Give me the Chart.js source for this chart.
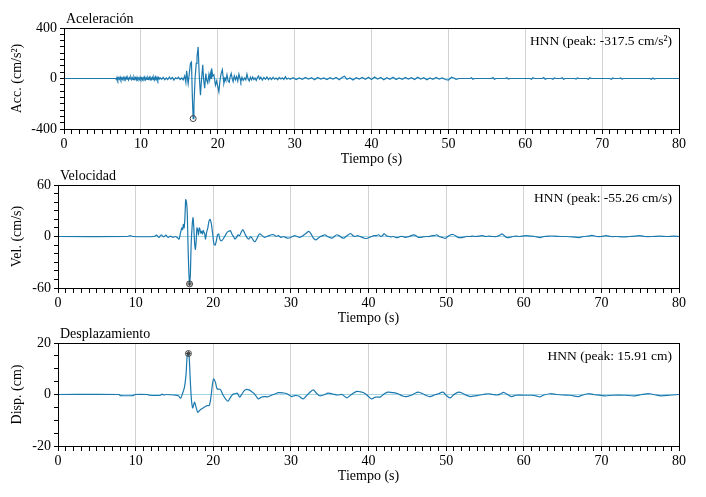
<!DOCTYPE html>
<html lang="es">
<head>
<meta charset="utf-8">
<title>Registro HNN</title>
<script src="https://cdn.jsdelivr.net/npm/chart.js@4.4.1/dist/chart.umd.min.js"></script>
<style>
    html, body { margin: 0; padding: 0; background: #fff; }
    #wrap { position: relative; width: 706px; height: 497px; overflow: hidden; }
    #wrap canvas { position: absolute; left: 0; }
</style>
</head>
<body>
<div id="wrap">
    <canvas id="accChart" width="706" height="168" style="top:0px"></canvas>
    <canvas id="velChart" width="706" height="167" style="top:160px"></canvas>
    <canvas id="dispChart" width="706" height="167" style="top:318px"></canvas>
</div>
<script>
// eje de tiempo compartido
const timeMin = 0;
const timeMax = 80;
const timeLabels = [0, 10, 20, 30, 40, 50, 60, 70, 80];

// aceleración [t (s), cm/s²]
const acceleration = [
    [0, 0], [6.75, 0],
    [6.8, -8], [6.9, 10], [7.0, -12], [7.1, 6], [7.2, -6], [7.3, 12], [7.4, -10], [7.5, 4], [7.6, -8], [7.7, 10],
    [7.8, -4], [7.9, 8], [8.0, -10], [8.1, 12], [8.2, -6], [8.3, 5], [8.4, -12], [8.5, 8], [8.6, -4], [8.7, 10],
    [8.8, -8], [8.9, 6], [9.0, -10], [9.1, 12], [9.2, -5], [9.3, 7], [9.4, -12], [9.5, 10], [9.6, -6], [9.7, 4],
    [9.8, -9], [9.9, 11], [10.0, -7], [10.1, 5], [10.2, -10], [10.3, 8], [10.4, -4], [10.5, 12], [10.6, -10], [10.7, 6],
    [10.8, -8], [10.9, 9], [11.0, -5], [11.1, 10], [11.2, -12], [11.3, 6], [11.4, -6], [11.5, 10], [11.6, -9], [11.7, 8],
    [11.8, -12], [11.9, 12], [12.0, -8], [12.1, 10], [12.2, -12], [12.3, 8], [12.4, -4], [12.5, 6],
    [12.7, -6], [12.9, 10], [13.1, -10], [13.3, 4], [13.5, -8], [13.7, 12], [13.9, -4], [14.1, 8], [14.3, -12],
    [14.5, 6], [14.7, -2], [14.9, 10], [15.1, -8], [15.3, 4], [15.5, -10],
    [15.7, 20], [15.85, -30], [15.95, 60], [16.05, 10], [16.15, -40], [16.3, 40], [16.45, 120], [16.58, 130],
    [16.7, -150], [16.8, -317.5], [16.9, -220], [17.05, 0], [17.2, 120], [17.3, 170], [17.45, 250], [17.58, 40],
    [17.75, -132], [17.85, -40], [18.05, 108], [18.15, 0], [18.3, -76], [18.45, 40], [18.55, -10], [18.7, -36],
    [18.85, 30], [18.95, -10], [19.05, 40], [19.15, 0], [19.2, 80], [19.35, 20], [19.5, 30], [19.7, -52],
    [19.85, -20], [20.15, -105], [20.25, -40], [20.35, 10], [20.45, 40], [20.6, 70], [20.7, 10], [20.8, -38],
    [20.95, 0], [21.05, -15], [21.2, 30], [21.35, -20], [21.5, -30], [21.6, 10], [21.75, 40], [21.9, -5],
    [22.0, -25], [22.15, 20], [22.3, -10], [22.45, 15], [22.6, -20], [22.75, 35], [22.9, 0], [23.0, -25],
    [23.15, 10], [23.3, -15], [23.5, 5], [23.65, -10], [23.8, 35], [23.95, -5], [24.1, -20], [24.25, 10],
    [24.4, -10], [24.55, 12], [24.7, -8], [24.85, 5], [25.0, -15], [25.15, 8], [25.3, 20], [25.45, -5],
    [25.6, 10], [25.8, -12], [26.0, 8], [26.2, -6], [26.4, 12], [26.6, -10], [26.8, 6], [27.0, -8],
    [27.2, 10], [27.4, -6], [27.6, 4], [27.8, -10], [28.0, 8], [28.2, -4], [28.4, 6], [28.6, -8], [28.8, 15],
    [29.0, -5], [29.2, 3], [29.4, -6], [29.8, 6], [30.2, -8], [30.6, 4], [31.0, -6], [31.4, 8], [31.8, -4],
    [32.2, 6], [32.6, -10], [33.0, 8], [33.4, -4], [33.8, 5], [34.2, -8], [34.6, 6], [35.0, -4], [35.4, 8],
    [35.8, -10], [36.2, 10], [36.5, 18], [36.8, -6], [37.2, 4], [37.6, -12], [38.0, 6], [38.4, -4], [38.8, 8],
    [39.2, -6], [39.6, 10], [40.0, -8], [40.4, 12], [40.8, -4], [41.2, 8], [41.6, -10], [42.0, 6], [42.4, -6],
    [42.8, 10], [43.2, -8], [43.6, 4], [44.0, -6], [44.4, 8], [44.8, -4], [45.2, 6], [45.6, -8], [46.0, 10],
    [46.4, -4], [46.8, 6], [47.2, -10], [47.6, 4], [48.0, -6], [48.4, 8], [48.8, -4], [49.2, 4], [49.6, -8],
    [50.0, -12], [50.4, 10], [50.7, 4], [51.0, -6], [51.4, 0], [52.8, 0], [53.0, 6], [53.2, -6], [53.4, 0],
    [55.6, 0], [55.8, 8], [56.0, -6], [56.2, 0], [57.4, 0], [57.6, 6], [57.8, -4], [58.0, 0], [60.6, 0],
    [60.8, -6], [61.0, 6], [61.2, 0], [62.2, 0], [62.4, 8], [62.6, -6], [62.8, 0], [63.4, 0], [63.6, -6],
    [63.8, 4], [64.0, 0], [64.6, 0], [64.8, 6], [65.0, -6], [65.2, 0], [66.4, 0], [66.6, -4], [66.8, 4],
    [67.0, 0], [68.0, 0], [68.2, -6], [68.4, 6], [68.6, 0], [71.0, 0], [71.2, -6], [71.4, 4], [71.6, 0],
    [72.2, 0], [72.4, 4], [72.6, -4], [72.8, 0], [76.2, 0], [76.4, -6], [76.6, 4], [76.8, -4], [77.0, 0],
    [80, 0]
];
const accPeak = [16.8, -317.5];
const accTicks = [-400, 0, 400];

// velocidad [t (s), cm/s]
const velocity = [
    [0, 0], [9.0, 0], [9.3, 1], [9.6, 0], [12.4, 0], [12.7, 1.5], [13.0, -1], [13.3, 2], [13.6, -0.5], [13.9, 1.5],
    [14.2, -1], [14.5, 0.5], [14.8, -1], [15.1, 0], [15.4, -1.5], [15.6, -3], [15.8, 5], [15.95, 10], [16.05, 8],
    [16.15, 14], [16.25, 10], [16.35, 22], [16.45, 43], [16.55, 40], [16.65, 28], [16.75, -10], [16.85, -40],
    [16.95, -55.26], [17.05, -45], [17.15, -10], [17.3, 15], [17.4, 22], [17.5, 10], [17.6, -8], [17.7, -15],
    [17.8, -5], [17.9, 10], [18.0, 8], [18.1, 2], [18.2, 10], [18.3, 8], [18.4, 4], [18.5, 6], [18.6, 3],
    [18.7, 7], [18.8, 5], [18.9, 3], [19.0, -3], [19.15, 5], [19.3, 10], [19.45, 18], [19.6, 20], [19.75, 15],
    [19.9, 5], [20.0, -3], [20.1, -9], [20.25, -10], [20.4, -5], [20.55, 2], [20.7, 3], [20.85, -3], [21.0, -5],
    [21.2, -4], [21.4, -1], [21.6, 2], [21.8, 5], [22.0, 6], [22.2, 7], [22.4, 3], [22.6, 0], [22.8, -3],
    [23.0, -1], [23.2, 2], [23.4, 1], [23.6, 5], [23.8, 8], [24.0, 5], [24.2, 1], [24.4, -2], [24.6, -3],
    [24.8, 0], [25.0, -2], [25.2, -5], [25.4, -6], [25.6, -3], [25.8, 1], [26.0, 3], [26.3, 1], [26.6, -1],
    [26.9, 0], [27.2, 1], [27.5, 2], [27.8, 2], [28.1, 0], [28.4, 1], [28.7, -1], [29.0, 0], [29.3, -1],
    [29.6, -2], [29.9, -1.5], [30.2, 0], [30.5, 1], [30.8, 0], [31.1, -1], [31.4, 0], [31.7, 2], [32.0, 4],
    [32.3, 6], [32.6, 3], [32.9, -2], [33.2, -4], [33.5, -2], [33.8, 0], [34.1, 1], [34.4, 2], [34.7, 0],
    [35.0, -1], [35.3, -2], [35.6, 0], [35.9, 2], [36.2, 1], [36.5, -1], [36.8, -2], [37.1, 0], [37.4, 2],
    [37.7, 3.5], [38.0, 1], [38.3, 0], [38.6, 1], [38.9, 0], [39.2, -1], [39.5, -2], [39.8, -2.3], [40.1, -1],
    [40.4, 0], [40.7, 1], [41.0, 1], [41.3, 2], [41.6, 0], [41.9, 2], [42.0, 3.5], [42.3, 1], [42.6, 0],
    [42.9, -0.5], [43.2, 0], [43.5, -1], [43.8, -1.2], [44.1, 0], [44.4, 0], [44.8, -1], [45.2, 0], [45.5, 1],
    [45.8, 2], [46.1, 1], [46.4, -1], [46.7, -1], [47.0, -0.5], [47.4, 0], [47.8, 0], [48.2, 1], [48.5, 1],
    [48.8, 2], [49.1, 0], [49.5, -1], [49.9, -2.3], [50.2, 0], [50.6, 2], [50.9, 2.3], [51.2, 1], [51.5, -1],
    [51.8, -1.2], [52.2, -1], [52.6, 0], [53.0, 0], [53.4, 0.5], [53.8, 0], [54.3, 0.5], [54.7, 1], [55.1, 0],
    [55.5, 0.5], [56.0, 0], [56.5, 0], [56.9, 1.5], [57.2, 3], [57.5, 1], [57.8, -1.2], [58.2, -1], [58.6, 0],
    [59.0, 0.5], [59.5, 0], [60.2, 1], [60.8, 0.5], [61.4, 0], [62.1, -1.2], [62.6, 0], [63.2, 0.5], [64.0, 0.5],
    [64.8, 0], [65.5, 0], [66.3, -0.5], [67.1, -1.2], [67.7, 0], [68.3, 0.5], [68.8, 1.2], [69.4, 0], [70.0, 0],
    [70.6, 1], [71.2, 0], [72.0, 0], [72.8, -0.5], [73.6, 0], [74.4, 0.5], [75.0, 1], [75.6, 0], [76.5, 0],
    [77.5, 0.5], [78.5, 0], [79.3, 0.5], [80, 0]
];
const velPeak = [16.95, -55.26];
const velTicks = [-60, 0, 60];

// desplazamiento [t (s), cm]
const displacement = [
    [0, 0], [7.9, 0], [8.0, -0.4], [9.7, -0.4], [9.9, 0], [11.5, 0], [11.8, -0.3], [13.2, -0.3], [13.4, 0.2],
    [13.6, -0.2], [14.0, 0], [15.0, -0.2], [15.5, -0.5], [15.8, -1.4], [16.0, 0], [16.3, 3], [16.5, 8],
    [16.65, 15.2], [16.8, 15.91], [16.9, 14.5], [17.05, 5], [17.2, -2.3], [17.35, -5.2], [17.5, -3.7],
    [17.6, -3], [17.75, -4.5], [18.0, -6.9], [18.3, -6], [18.7, -5.2], [19.2, -4.3], [19.5, -4.2], [19.7, -1],
    [19.9, 4], [20.05, 6.1], [20.3, 4.5], [20.5, 2.2], [20.9, 2], [21.3, -0.4], [21.6, -1.8], [21.9, -2.6],
    [22.2, -1.2], [22.5, 0], [22.8, 0.3], [23.1, 0.5], [23.4, -1], [23.7, 0.2], [24.0, 1.5], [24.3, 2],
    [24.6, 1.8], [25.0, 1], [25.3, 0.3], [25.8, -1.7], [26.1, -1.2], [26.5, -0.8], [27.0, -0.9], [27.5, -0.3],
    [28.0, 0.3], [28.4, 0.7], [29.0, 0.6], [29.5, 0.3], [30.1, -0.8], [30.5, -0.4], [31.0, -0.6], [31.6, -1.7],
    [32.0, -0.5], [32.5, 1], [32.9, 1.8], [33.3, 0.5], [33.7, -0.5], [34.2, -0.2], [34.8, 0.5], [35.4, 0.2],
    [36.0, -0.2], [36.6, 0], [37.2, -1.3], [37.8, 0], [38.5, 1.2], [39.0, 1], [39.5, 0.5], [40.0, -0.8],
    [40.4, -1.7], [40.9, -1], [41.5, -1], [42.0, 0.2], [42.5, 0.9], [43.2, 0.7], [43.8, 0.3], [44.4, -0.6],
    [44.9, -0.8], [45.5, -0.3], [46.0, 0.5], [46.4, 0.9], [47.0, 0.3], [47.5, -0.5], [47.9, -0.8], [48.5, -0.2],
    [49.0, 0.3], [49.6, 0.9], [50.0, -0.3], [50.5, -1.3], [51.0, 0], [51.6, 0.9], [52.1, 0.5], [52.6, -0.3],
    [53.1, -0.8], [53.7, -0.5], [54.2, -0.3], [54.8, 0], [55.4, 0.3], [56.0, 0], [56.6, -0.2], [57.0, 0.2],
    [57.4, 0.8], [57.9, 0], [58.4, -0.8], [59.0, -0.3], [60.0, -0.3], [61.0, -0.3], [61.6, -0.5], [62.1, -0.9],
    [62.6, -0.2], [63.4, 0.3], [64.2, 0], [65.0, -0.2], [66.0, -0.3], [67.0, -0.8], [67.6, -0.2], [68.3, 0.3],
    [69.0, 0], [70.4, -0.5], [71.5, -0.3], [73.0, -0.3], [74.3, -0.5], [75.2, 0], [76.2, 0.3], [77.0, -0.2],
    [77.7, -0.5], [78.8, -0.3], [80, 0]
];
const dispPeak = [16.8, 15.91];
const dispTicks = [-20, 0, 20];

const TRACE = '#1c79ae';
const FONT = { family: '"Liberation Serif", "Times New Roman", serif', size: 14 };
const NOTE_FONT = `13.5px ${FONT.family}`;

function toPoints(series) {
    return series.map(p => ({ x: p[0], y: p[1] }));
}

// caja negra + textos del panel
function panelDecor(title, note, titleX) {
    return {
        id: 'panelDecor',
        afterDatasetsDraw(chart) {
            const { ctx, chartArea: a } = chart;
            ctx.save();
            ctx.strokeStyle = '#000';
            ctx.lineWidth = 1;
            ctx.strokeRect(Math.round(a.left) + 0.5, Math.round(a.top) + 0.5,
                Math.round(a.right - a.left), Math.round(a.bottom - a.top));
            ctx.fillStyle = '#000';
            ctx.font = `${FONT.size}px ${FONT.family}`;
            ctx.textBaseline = 'middle';
            ctx.textAlign = 'left';
            ctx.fillText(title, titleX, a.top - 9);
            ctx.font = NOTE_FONT;
            ctx.textAlign = 'right';
            ctx.fillText(note, a.right - 7, a.top + 13);
            ctx.restore();
        }
    };
}

function buildPanel(canvasId, cfg) {
    const datasets = [
        { data: toPoints(cfg.series), borderColor: TRACE, borderWidth: 1.2, pointRadius: 0,
          tension: cfg.smooth || 0, order: 3 },
        { data: toPoints([cfg.peak]), showLine: false, pointStyle: 'circle', pointRadius: 3,
          borderColor: '#444', backgroundColor: 'rgba(255,255,255,0)', pointBorderWidth: 1, order: 1 }
    ];
    if (cfg.star) {
        datasets.push({ data: toPoints([cfg.peak]), showLine: false, pointStyle: 'star', pointRadius: 2.5,
            borderColor: '#444', pointBorderWidth: 1, order: 2 });
    }

    return new Chart(document.getElementById(canvasId), {
        type: 'line',
        data: { datasets },
        options: {
            responsive: false,
            animation: false,
            events: [],
            layout: { padding: { top: cfg.top, right: 27, left: 0, bottom: 0 } },
            plugins: { legend: { display: false }, tooltip: { enabled: false } },
            scales: {
                x: {
                    type: 'linear', min: timeMin, max: timeMax,
                    afterFit: s => { s.height = 39; },
                    border: { display: false },
                    grid: {
                        color: c => (c.tick && timeLabels.includes(c.tick.value)) ? '#d2d2d2' : 'rgba(0,0,0,0)',
                        tickColor: '#000', tickLength: 5, lineWidth: 1
                    },
                    ticks: {
                        stepSize: 1, autoSkip: false, maxRotation: 0, padding: 2, color: '#000', font: FONT,
                        callback: v => timeLabels.includes(v) ? String(v) : ''
                    },
                    title: { display: true, text: 'Tiempo (s)', color: '#000', font: FONT, padding: { top: 0, bottom: 0 } }
                },
                y: {
                    min: cfg.ticks[0], max: cfg.ticks[cfg.ticks.length - 1],
                    afterFit: s => { s.width = cfg.left; },
                    border: { display: false },
                    grid: {
                        color: c => (c.tick && c.tick.value === 0) ? '#a6d5e6' : 'rgba(0,0,0,0)',
                        tickColor: '#000', tickLength: 4
                    },
                    ticks: {
                        stepSize: cfg.minor, autoSkip: false, padding: 3, color: '#000', font: FONT,
                        callback: v => cfg.ticks.includes(v) ? String(v) : ''
                    },
                    title: { display: true, text: cfg.yTitle, color: '#000', font: FONT, padding: { top: 9, bottom: 0 } }
                }
            }
        },
        plugins: [panelDecor(cfg.title, cfg.note, cfg.titleX)]
    });
}

buildPanel('accChart', {
    series: acceleration, peak: accPeak, ticks: accTicks, minor: 50,
    top: 28, left: 64, titleX: 66,
    title: 'Aceleración', yTitle: 'Acc. (cm/s²)', note: 'HNN (peak: -317.5 cm/s²)'
});
buildPanel('velChart', {
    series: velocity, peak: velPeak, ticks: velTicks, minor: 10, star: true, smooth: 0.2,
    top: 25, left: 58, titleX: 60,
    title: 'Velocidad', yTitle: 'Vel. (cm/s)', note: 'HNN (peak: -55.26 cm/s)'
});
buildPanel('dispChart', {
    series: displacement, peak: dispPeak, ticks: dispTicks, minor: 5, star: true, smooth: 0.3,
    top: 25, left: 58, titleX: 60,
    title: 'Desplazamiento', yTitle: 'Disp. (cm)', note: 'HNN (peak: 15.91 cm)'
});
</script>
</body>
</html>
